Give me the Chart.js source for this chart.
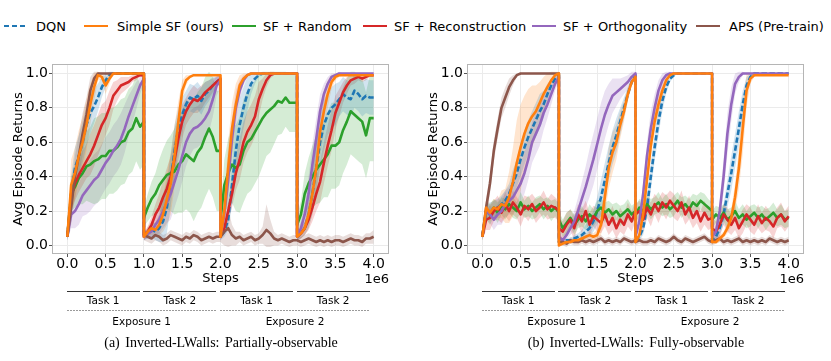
<!DOCTYPE html>
<html><head><meta charset="utf-8">
<script src="https://cdn.jsdelivr.net/npm/chart.js@4.4.1/dist/chart.umd.min.js"></script>
<style>
html,body{margin:0;padding:0;background:#fff;width:831px;height:361px;overflow:hidden;position:relative;font-family:'DejaVu Sans',sans-serif;color:#000;}
canvas{position:absolute;top:40px;}
.lgl{position:absolute;top:24.5px;height:2.6px;width:24px;}
.txt{position:absolute;white-space:nowrap;line-height:1;}
.c{transform:translate(-50%,-50%);}
.r{transform:translate(-100%,-50%);}
.l{transform:translate(0,-50%);}
.solid{position:absolute;height:1px;background:#333;}
.dash{position:absolute;height:1px;background:repeating-linear-gradient(90deg,#9a9a9a 0 2px,transparent 2px 3px);}
</style></head><body>
<div id="legend"></div>
<canvas id="c1" width="415" height="250" style="left:0px"></canvas>
<canvas id="c2" width="415" height="250" style="left:415px"></canvas>
<div id="ann"></div>
<script>
// x positions (in millions of steps); each task segment ends and the next starts at the same step
const STEPS = [
 0,0.05,0.1,0.15,0.2,0.25,0.3,0.35,0.4,0.45,0.5,0.55,0.6,0.65,0.7,0.75,0.8,0.85,0.9,0.95,1,
 1,1.05,1.1,1.15,1.2,1.25,1.3,1.35,1.4,1.45,1.5,1.55,1.6,1.65,1.7,1.75,1.8,1.85,1.9,1.95,2,
 2,2.05,2.1,2.15,2.2,2.25,2.3,2.35,2.4,2.45,2.5,2.55,2.6,2.65,2.7,2.75,2.8,2.85,2.9,2.95,3,
 3,3.05,3.1,3.15,3.2,3.25,3.3,3.35,3.4,3.45,3.5,3.55,3.6,3.65,3.7,3.75,3.8,3.85,3.9,3.95,4];
const X_TICKS = [0,0.5,1,1.5,2,2.5,3,3.5,4];
const Y_TICKS = [0,20,40,60,80,100];   // returns in percent

// ---- (a) Partially-observable: mean returns (%)
const PO_DQN = [5,30,45,52,60,70,77,81,86,92,96,99,100,100,100,100,100,100,100,100,100,
 5,7,9,8,10,14,22,38,55,68,76,82,86,85,87,84,88,90,93,95,97,
 5,8,15,35,55,70,80,88,94,97,99,100,100,100,100,100,100,100,100,100,100,
 5,7,10,18,30,45,60,70,76,80,82,85,88,86,85,90,88,85,87,86,86];
const PO_SSF = [5,35,42,52,60,70,82,92,99,98,93,97,100,100,100,100,100,100,100,100,100,
 5,8,10,9,12,18,27,36,52,72,90,96,98,99,99,99,99,99,99,99,99,
 5,20,45,68,82,93,97,99,100,100,100,100,100,100,100,100,100,100,100,100,100,
 5,7,10,18,30,45,66,78,88,95,98,99,99,99,99,99,99,99,99,99,99];
const PO_RND = [5,30,34,39,42,46,47,49,50,52,52,55,55,57,60,61,66,68,74,69,72,
 16,22,27,30,35,38,41,42,43,47,49,53,51,49,54,57,63,68,63,55,55,
 15,35,42,47,45,47,55,60,62,66,70,74,77,79,81,84,83,86,83,83,83,
 12,18,30,36,40,44,47,50,53,58,58,60,67,72,78,76,74,72,64,74,74];
const PO_REC = [5,28,36,41,45,49,53,58,64,70,74,80,87,90,93,94,95,97,98,99,99,
 5,8,12,18,22,28,33,40,50,62,72,78,82,85,84,86,89,91,93,95,97,
 5,10,20,30,42,50,60,66,70,75,85,91,96,99,100,100,100,100,100,100,100,
 5,7,10,15,22,30,37,48,58,67,77,83,89,93,96,97,98,97,98,99,99];
const PO_ORT = [5,18,20,24,29,32,35,38,40,44,48,51,55,58,62,68,75,81,87,93,97,
 5,7,8,12,15,20,25,30,37,44,52,60,65,68,69,71,74,78,85,93,96,
 5,18,38,62,80,90,96,99,100,100,100,100,100,100,100,100,100,100,100,100,100,
 5,10,18,30,47,62,78,88,94,98,99,100,100,100,100,100,100,100,100,100,100];
const PO_APS = [5,22,40,52,65,76,90,97,100,100,100,100,100,100,100,100,100,100,100,100,100,
 6,5,4,6,5,3,4,6,5,4,3,5,4,6,5,3,4,5,4,5,5,
 5,8,10,6,4,5,3,4,5,3,4,6,9,7,4,3,4,3,2,3,3,
 3,2,3,4,3,2,3,2,3,2,3,3,2,3,4,3,3,2,4,4,5];
// ---- (a) spread (half-width of shaded band, %)
const PO_DQN_SD = [2,10,12,12,12,12,12,10,8,6,4,2,1,0,0,0,0,0,0,0,0,
 2,3,4,5,8,12,15,15,15,12,10,8,8,8,8,8,7,6,5,3,2,
 2,3,6,12,15,15,12,10,6,3,1,0,0,0,0,0,0,0,0,0,0,
 2,3,4,8,12,15,15,15,12,12,12,10,10,10,10,10,10,10,10,10,10];
const PO_SSF_SD = [2,15,15,15,15,15,12,8,3,2,5,3,0,0,0,0,0,0,0,0,0,
 2,3,4,4,6,10,15,18,18,12,6,3,1,0,0,0,0,0,0,0,0,
 2,8,15,15,12,6,3,1,0,0,0,0,0,0,0,0,0,0,0,0,0,
 2,3,4,8,12,15,15,12,8,4,2,1,0,0,0,0,0,0,0,0,0];
const PO_RND_SD = [2,10,12,15,18,20,22,25,25,25,25,25,25,25,25,25,25,25,25,25,25,
 5,8,10,12,15,18,20,22,25,28,30,32,32,35,35,35,35,35,35,35,35,
 5,15,20,22,25,28,30,30,30,30,30,28,25,25,22,20,18,17,17,17,17,
 5,8,12,15,18,20,22,22,25,25,25,25,25,25,25,25,25,25,25,25,25];
const PO_REC_SD = [2,8,10,10,10,10,12,12,12,12,10,10,8,6,5,4,3,2,2,1,1,
 2,3,5,6,8,10,12,12,12,12,10,8,8,8,7,7,6,5,4,3,3,
 2,3,6,8,10,12,12,12,12,12,10,6,4,2,1,0,0,0,0,0,0,
 2,3,4,6,8,10,12,12,12,12,10,8,6,5,3,3,2,2,2,1,1];
const PO_ORT_SD = [2,8,10,12,12,14,15,15,15,15,15,15,15,15,15,14,12,10,8,5,3,
 2,3,4,6,8,10,12,15,15,15,15,14,13,12,12,12,12,12,10,6,4,
 2,8,12,12,10,6,3,1,0,0,0,0,0,0,0,0,0,0,0,0,0,
 2,4,6,10,12,12,10,6,4,2,1,1,0,0,0,0,0,0,0,0,0];
const PO_APS_SD = [2,10,12,12,12,10,8,4,1,0,0,0,0,0,0,0,0,0,0,0,0,
 3,3,3,3,3,3,3,3,3,3,3,3,3,3,3,3,3,3,3,3,3,
 3,8,12,6,4,3,3,3,3,3,3,5,15,8,4,3,3,3,3,3,3,
 3,3,3,3,3,3,3,3,3,3,3,3,3,3,3,3,3,3,3,3,4];

// ---- (b) Fully-observable: mean returns (%)
const FO_DQN = [5,20,20,21,22,24,26,30,36,42,50,57,63,68,73,78,82,88,93,97,99,
 2,2,3,3,4,5,6,8,10,14,20,28,38,48,57,64,72,80,88,95,99,
 3,5,10,22,40,57,72,84,92,97,99,100,100,100,100,100,100,100,100,100,100,
 3,5,10,18,30,42,55,68,82,93,98,100,100,100,100,100,100,100,100,100,100];
const FO_SSF = [5,22,19,22,21,24,23,28,37,48,57,65,71,75,78,83,88,92,96,99,100,
 0,1,2,2,3,3,4,5,6,5,6,12,28,45,54,60,70,78,88,95,98,
 2,6,18,38,58,72,82,90,96,99,100,100,100,100,100,100,100,100,100,100,100,
 2,2,4,6,10,16,28,45,68,90,97,99,99,99,99,99,99,99,99,99,99];
const FO_RND = [5,20,18,22,19,23,21,24,22,20,25,21,23,20,22,24,21,23,20,22,19,
 15,10,13,16,12,15,17,14,18,16,20,22,19,21,18,20,17,19,21,18,20,
 18,22,20,24,21,23,25,22,24,21,23,26,22,24,21,25,23,26,24,22,20,
 15,18,16,19,15,17,20,16,18,15,17,19,16,18,15,17,19,16,18,15,16];
const FO_REC = [5,15,16,20,22,19,24,20,25,22,18,23,21,24,20,22,25,21,23,22,20,
 10,8,12,15,10,18,14,20,12,17,15,13,18,12,16,10,15,12,18,14,20,
 18,20,15,22,18,24,20,25,22,26,23,20,25,18,22,16,20,14,19,15,16,
 10,8,12,18,15,12,16,10,14,18,15,12,17,13,16,14,11,16,18,14,17];
const FO_ORT = [5,20,18,15,18,20,24,26,28,32,36,42,50,60,65,70,77,82,88,94,98,
 5,3,6,10,14,20,27,34,42,50,59,68,76,82,87,89,91,93,95,98,100,
 5,14,30,52,68,80,90,96,99,100,100,100,100,100,100,100,100,100,100,100,100,
 5,8,20,40,65,82,94,98,100,100,100,100,100,100,100,100,100,100,100,100,100];
const FO_APS = [5,22,36,55,68,80,86,92,96,99,100,100,100,100,100,100,100,100,100,100,100,
 2,2,1,3,2,2,3,2,3,2,3,4,2,3,2,3,2,4,3,2,3,
 2,3,2,2,3,2,4,3,2,3,5,3,2,4,3,2,3,4,5,3,2,
 2,3,4,2,3,2,3,4,2,3,2,3,2,3,2,4,3,2,3,2,3];
// ---- (b) spread (%)
const FO_DQN_SD = [2,5,5,5,5,5,6,6,8,8,10,10,10,10,10,10,8,6,4,2,1,
 1,1,1,1,2,2,3,4,5,6,8,10,10,10,10,10,8,6,4,2,1,
 1,2,4,6,8,8,8,6,4,2,1,0,0,0,0,0,0,0,0,0,0,
 1,2,4,6,8,10,10,10,8,5,2,1,0,0,0,0,0,0,0,0,0];
const FO_SSF_SD = [2,5,5,5,5,8,10,15,20,25,25,22,20,18,15,12,10,8,5,3,1,
 1,1,1,1,1,2,2,2,2,2,3,6,10,12,12,10,8,6,4,2,1,
 1,2,4,6,6,6,5,4,2,1,0,0,0,0,0,0,0,0,0,0,0,
 1,1,2,2,3,5,8,12,15,10,3,1,0,0,0,0,0,0,0,0,0];
const FO_RND_SD = [2,5,6,5,6,5,6,5,6,5,6,5,6,5,6,5,6,5,6,5,5,
 5,5,6,5,6,5,6,5,6,5,6,5,6,5,6,5,6,5,6,5,5,
 5,5,6,5,6,5,6,5,6,5,6,5,6,5,6,5,6,5,6,5,5,
 5,5,6,5,6,5,6,5,6,5,6,5,6,5,6,5,6,5,6,5,5];
const FO_REC_SD = [2,6,7,6,7,6,7,6,7,6,7,6,7,6,7,6,7,6,7,6,6,
 6,6,7,6,7,6,7,6,7,6,7,6,7,6,7,6,7,6,7,6,6,
 6,6,7,6,7,6,7,6,7,6,7,6,7,6,7,6,7,6,7,6,6,
 6,6,7,6,7,6,7,6,7,6,7,6,7,6,7,6,7,6,7,6,6];
const FO_ORT_SD = [2,5,5,6,6,8,8,8,10,10,12,12,12,12,12,12,10,8,6,4,2,
 2,2,3,4,6,8,10,12,14,15,15,15,14,12,10,8,6,5,4,3,2,
 2,4,6,8,10,8,6,4,2,1,0,0,0,0,0,0,0,0,0,0,0,
 2,3,6,10,12,10,6,3,1,0,0,0,0,0,0,0,0,0,0,0,0];
const FO_APS_SD = [2,5,6,6,6,6,6,5,3,1,0,0,0,0,0,0,0,0,0,0,0,
 2,2,2,2,2,2,2,2,2,2,2,2,2,2,2,2,2,2,2,2,2,
 2,2,2,2,2,2,2,2,2,2,2,2,2,2,2,2,2,2,2,2,2,
 2,2,2,2,2,2,2,2,2,2,2,2,2,2,2,2,2,2,2,2,2];

const LABELS = ['DQN','Simple SF (ours)','SF + Random','SF + Reconstruction','SF + Orthogonality','APS (Pre-train)'];
const COLORS = ['#1f77b4','#ff7f0e','#2ca02c','#d62728','#9467bd','#8c564b'];
const FILLS  = ['rgba(31,119,180,0.2)','rgba(255,127,14,0.2)','rgba(44,160,44,0.2)','rgba(214,39,40,0.2)','rgba(148,103,189,0.2)','rgba(140,86,75,0.2)'];
const Z = [5,0,4,3,2,1];   // lower = drawn on top
const TASK_LABELS = ['Task 1','Task 2','Task 1','Task 2'];
const EXPOSURE_LABELS = ['Exposure 1','Exposure 2'];
const CAPTIONS = ['(a) Inverted-LWalls: Partially-observable','(b) Inverted-LWalls: Fully-observable'];
const X_TITLE = 'Steps', X_EXP = '1e6', Y_TITLE = 'Avg Episode Returns';

const PANELS = [
  {id:'c1', means:[PO_DQN,PO_SSF,PO_RND,PO_REC,PO_ORT,PO_APS], sds:[PO_DQN_SD,PO_SSF_SD,PO_RND_SD,PO_REC_SD,PO_ORT_SD,PO_APS_SD]},
  {id:'c2', means:[FO_DQN,FO_SSF,FO_RND,FO_REC,FO_ORT,FO_APS], sds:[FO_DQN_SD,FO_SSF_SD,FO_RND_SD,FO_REC_SD,FO_ORT_SD,FO_APS_SD]}
];

Chart.defaults.font.family = "'DejaVu Sans', sans-serif";
Chart.defaults.color = '#000';

const framePlugin = {
  id:'frame',
  afterDatasetsDraw(chart){
    const {ctx, chartArea:a} = chart;
    ctx.save();
    ctx.strokeStyle = '#b5b5b5'; ctx.lineWidth = 1;
    ctx.strokeRect(Math.round(a.left)+0.5, Math.round(a.top)+0.5, Math.round(a.right-a.left)-1, Math.round(a.bottom-a.top)-1);
    ctx.restore();
  }
};

function buildPanel(p){
  const ds = [];
  p.means.forEach((m,i)=>{
    const sd = p.sds[i];
    ds.push({data: STEPS.map((x,k)=>({x, y: Math.min(101, m[k]+sd[k])})), borderWidth:0, borderColor:'transparent',
             backgroundColor:FILLS[i], fill:'+1', pointRadius:0, order:100+i});
    ds.push({data: STEPS.map((x,k)=>({x, y: Math.max(-1, m[k]-sd[k])})), borderWidth:0, borderColor:'transparent',
             fill:false, pointRadius:0, order:100+i});
  });
  p.means.forEach((m,i)=>{
    ds.push({label:LABELS[i], data: STEPS.map((x,k)=>({x, y:m[k]})), borderColor:COLORS[i], borderWidth:2.6,
             borderDash: i===0 ? [5.5,2.5] : [], fill:false, pointRadius:0, order:Z[i], borderJoinStyle:'round'});
  });
  new Chart(document.getElementById(p.id), {
    type:'line',
    data:{datasets:ds},
    options:{
      responsive:false, animation:false, devicePixelRatio:1,
      layout:{padding:{left:0,right:26,top:24,bottom:0}},
      plugins:{legend:{display:false}, tooltip:{enabled:false}},
      elements:{line:{tension:0}, point:{radius:0}},
      scales:{
        x:{type:'linear', min:-0.2, max:4.2,
           afterBuildTicks:s=>{s.ticks = X_TICKS.map(v=>({value:v}));},
           afterFit:s=>{s.height = 36;},
           ticks:{font:{size:14, lineHeight:1}, color:'#000', padding:0, maxRotation:0, autoSkip:false, callback:v=>Number(v).toFixed(1)},
           grid:{color:'#ebebeb', lineWidth:1, tickColor:'#555', tickLength:3},
           border:{display:false},
           title:{display:true, text:X_TITLE, font:{size:13}, color:'#000', padding:{top:0,bottom:4}}},
        y:{type:'linear', min:-5, max:105.5,
           afterBuildTicks:s=>{s.ticks = Y_TICKS.map(v=>({value:v}));},
           afterFit:s=>{s.width = 52;},
           ticks:{font:{size:14}, color:'#000', padding:1, callback:v=>(Number(v)/100).toFixed(1)},
           grid:{color:'#ebebeb', lineWidth:1, tickColor:'#555', tickLength:3},
           border:{display:false},
           title:{display:true, text:Y_TITLE, font:{size:13}, color:'#000', padding:{top:11,bottom:0}}}
      }
    },
    plugins:[framePlugin]
  });
}
PANELS.forEach(buildPanel);

// legend (HTML, single row across both panels)
const LEG_LINE_X = [4,84,232,363,532,696];
const LEG_TEXT_X = [36,117,263,394,563,729];
const leg = document.getElementById('legend');
LABELS.forEach((lab,i)=>{
  const ln = document.createElement('div');
  ln.className = 'lgl';
  ln.style.left = LEG_LINE_X[i]+'px';
  ln.style.background = i===0 ? `repeating-linear-gradient(90deg, ${COLORS[i]} 0 5.5px, transparent 5.5px 8px)` : COLORS[i];
  leg.appendChild(ln);
  const t = document.createElement('div');
  t.className = 'txt l';
  t.style.left = LEG_TEXT_X[i]+'px'; t.style.top = '26px'; t.style.fontSize = '13px';
  t.textContent = lab;
  leg.appendChild(t);
});

// annotations under each panel
const ann = document.getElementById('ann');
function addText(cls, txt, x, y, size, extra){
  const d = document.createElement('div');
  d.className = 'txt '+cls; d.textContent = txt;
  d.style.left = x+'px'; d.style.top = y+'px'; d.style.fontSize = size+'px';
  if (extra) Object.assign(d.style, extra);
  ann.appendChild(d);
}
[0,415].forEach((ox,pi)=>{
  addText('r', X_EXP, ox+389, 278, 13);
  TASK_LABELS.forEach((t,k)=>{
    const left = ox+66.7+76.67*k;
    const s = document.createElement('div');
    s.className='solid'; s.style.left=left+'px'; s.style.top='291px'; s.style.width='73px';
    ann.appendChild(s);
    addText('c', t, left+36.5, 299.5, 10.5);
  });
  EXPOSURE_LABELS.forEach((t,k)=>{
    const left = ox+66.7+153.3*k;
    const s = document.createElement('div');
    s.className='dash'; s.style.left=left+'px'; s.style.top='310px'; s.style.width='150px';
    ann.appendChild(s);
    addText('c', t, left+75, 320.5, 10.5);
  });
  addText('c', CAPTIONS[pi], ox+221, 343, 14, {fontFamily:"'Liberation Serif', serif", wordSpacing:'2px'});
});
</script>
</body></html>
